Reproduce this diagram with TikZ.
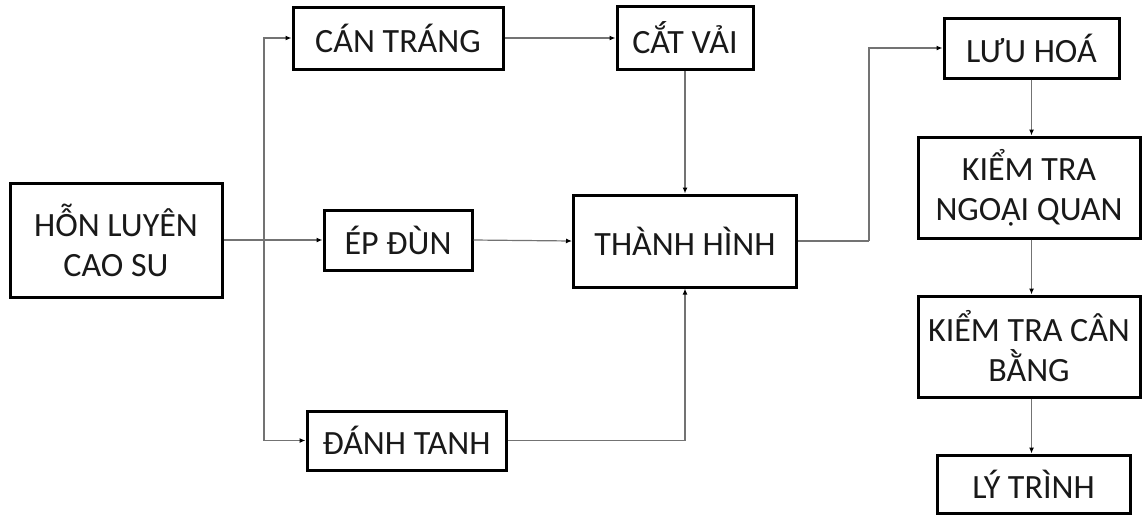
\documentclass[tikz,border=0pt]{standalone}
\usepackage{fontspec}
\setmainfont{Carlito}
\usetikzlibrary{arrows.meta}
\begin{document}
\begin{tikzpicture}[x=1pt,y=-1pt,
  box/.style={draw=black,line width=3pt,fill=white,inner sep=0pt,align=center,
    font=\fontsize{34}{40}\selectfont,text=black!90},
  conn/.style={draw=black!55,line width=1.2pt,-{Latex[length=6pt,width=5pt,black]}},
  plain/.style={draw=black!55,line width=1.2pt}]
\useasboundingbox (0,0) rectangle (1143,515);
\node[box,minimum width=212pt,minimum height=114pt] (hon) at (116,240) {HỖN LUYÊN\\CAO SU};
\node[box,minimum width=210pt,minimum height=62pt] (can) at (398,38) {CÁN TRÁNG};
\node[box,minimum width=136pt,minimum height=63pt] (cat) at (685,38) {CẮT VẢI};
\node[box,minimum width=148pt,minimum height=60pt] (ep) at (398,240) {ÉP ĐÙN};
\node[box,minimum width=223pt,minimum height=92pt] (thanh) at (685,241) {THÀNH HÌNH};
\node[box,minimum width=199pt,minimum height=59pt] (danh) at (406.5,440.5) {ĐÁNH TANH};
\node[box,minimum width=175pt,minimum height=60pt] (luu) at (1031.5,48) {LƯU HOÁ};
\node[box,minimum width=222pt,minimum height=101pt] (kt1) at (1029,187.5) {KIỂM TRA\\NGOẠI QUAN};
\node[box,minimum width=222pt,minimum height=101pt] (kt2) at (1029,346.5) {KIỂM TRA CÂN\\BẰNG};
\node[box,minimum width=193pt,minimum height=58pt] (ly) at (1033.5,484) {LÝ TRÌNH};
\coordinate (br) at (264,240);
\coordinate (tr) at (869,241);
\draw[conn] (hon.east) -- (ep.west);
\draw[conn] (br) |- (can.west);
\draw[conn] (br) |- (danh.west);
\draw[conn] (can.east) -- (cat.west);
\draw[conn] (cat.south) -- (thanh.north);
\draw[conn] (ep.east) -- (thanh.west);
\draw[conn] (danh.east) -| (thanh.south);
\draw[plain] (thanh.east) -- (tr);
\draw[conn] (tr) |- (luu.west);
\draw[conn] (luu.south) -- (luu.south |- kt1.north);
\draw[conn] (luu.south |- kt1.south) -- (luu.south |- kt2.north);
\draw[conn] (luu.south |- kt2.south) -- (luu.south |- ly.north);
\end{tikzpicture}
\end{document}
